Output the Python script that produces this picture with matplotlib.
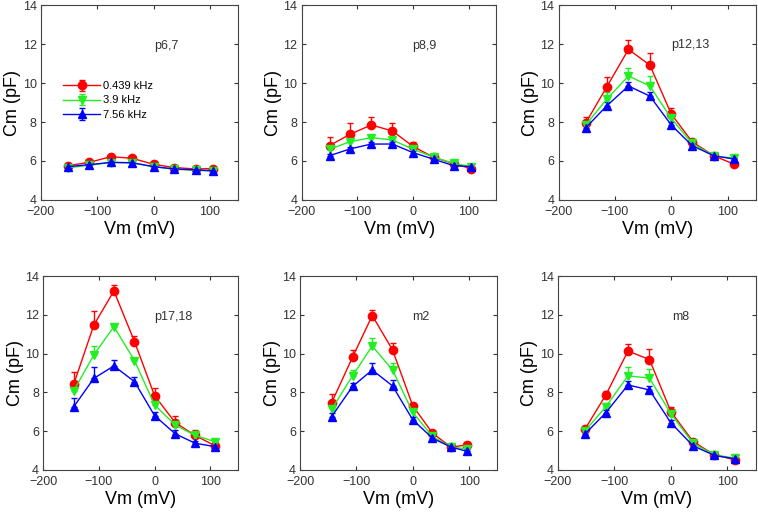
import matplotlib
matplotlib.use("Agg")
import matplotlib.pyplot as plt

plt.rcParams["font.family"] = ["Liberation Sans", "DejaVu Sans"]

# panel labels and membrane potentials (mV)
labels = ["p6,7", "p8,9", "p12,13", "p17,18", "m2", "m8"]
label_xy = [(23, 11.9), (20, 11.9), (34, 11.95), (33, 11.9), (14, 11.9), (18, 11.9)]
vm = [
    [-152, -114, -76, -38, 0, 37, 76, 105],
    [-150, -113, -75, -37, 0, 37, 73, 105],
    [-152, -115, -76, -38, 0, 37, 76, 112],
    [-145, -109, -73, -36, 0, 37, 73, 108],
    [-144, -107, -72, -36, 0, 35, 68, 97],
    [-152, -115, -76, -38, 0, 39, 77, 113],
]

# Cm (pF) at 0.439 kHz
cm_red = [
    [5.76, 5.93, 6.22, 6.14, 5.83, 5.66, 5.59, 5.61],
    [6.79, 7.37, 7.85, 7.54, 6.75, 6.19, 5.86, 5.60],
    [7.95, 9.78, 11.73, 10.92, 8.41, 6.99, 6.26, 5.83],
    [8.43, 11.47, 13.23, 10.62, 7.83, 6.44, 5.77, 5.25],
    [7.47, 9.81, 11.96, 10.19, 7.30, 5.89, 5.17, 5.29],
    [6.10, 7.87, 10.13, 9.69, 7.00, 5.46, 4.77, 4.52],
]
err_red = [
    [0.05, 0.05, 0.05, 0.05, 0.05, 0.03, 0.03, 0.03],
    [0.45, 0.60, 0.42, 0.43, 0.20, 0.10, 0.06, 0.00],
    [0.30, 0.55, 0.50, 0.60, 0.30, 0.10, 0.05, 0.00],
    [0.64, 0.73, 0.31, 0.30, 0.38, 0.36, 0.29, 0.00],
    [0.45, 0.38, 0.29, 0.37, 0.14, 0.09, 0.05, 0.12],
    [0.13, 0.22, 0.36, 0.52, 0.23, 0.05, 0.05, 0.03],
]

# Cm (pF) at 3.9 kHz
cm_green = [
    [5.65, 5.78, 5.92, 5.90, 5.70, 5.58, 5.52, 5.48],
    [6.60, 6.99, 7.20, 7.08, 6.60, 6.20, 5.88, 5.71],
    [7.85, 9.16, 10.36, 9.85, 8.19, 6.90, 6.26, 6.14],
    [8.09, 9.93, 11.39, 9.64, 7.35, 6.32, 5.77, 5.46],
    [7.13, 8.85, 10.39, 9.15, 6.96, 5.72, 5.17, 5.08],
    [6.01, 7.26, 8.85, 8.73, 6.89, 5.37, 4.77, 4.60],
]
err_green = [
    [0.05, 0.05, 0.05, 0.05, 0.05, 0.03, 0.03, 0.03],
    [0.15, 0.15, 0.15, 0.15, 0.10, 0.05, 0.05, 0.03],
    [0.25, 0.40, 0.42, 0.50, 0.25, 0.05, 0.05, 0.05],
    [0.30, 0.46, 0.10, 0.12, 0.17, 0.17, 0.13, 0.05],
    [0.17, 0.30, 0.40, 0.35, 0.17, 0.05, 0.05, 0.05],
    [0.10, 0.18, 0.44, 0.46, 0.20, 0.05, 0.05, 0.05],
]

# Cm (pF) at 7.56 kHz
cm_blue = [
    [5.71, 5.81, 5.93, 5.91, 5.71, 5.59, 5.54, 5.50],
    [6.27, 6.62, 6.87, 6.87, 6.43, 6.09, 5.76, 5.71],
    [7.70, 8.82, 9.85, 9.33, 7.85, 6.79, 6.26, 6.10],
    [7.26, 8.72, 9.36, 8.55, 6.80, 5.86, 5.37, 5.20],
    [6.75, 8.30, 9.15, 8.33, 6.58, 5.63, 5.17, 4.95],
    [5.85, 6.95, 8.38, 8.12, 6.42, 5.24, 4.74, 4.57],
]
err_blue = [
    [0.05, 0.05, 0.05, 0.05, 0.05, 0.03, 0.03, 0.03],
    [0.10, 0.10, 0.10, 0.10, 0.10, 0.05, 0.05, 0.03],
    [0.15, 0.20, 0.20, 0.20, 0.15, 0.05, 0.05, 0.05],
    [0.43, 0.57, 0.31, 0.23, 0.20, 0.20, 0.13, 0.17],
    [0.20, 0.20, 0.35, 0.30, 0.17, 0.10, 0.10, 0.10],
    [0.10, 0.15, 0.20, 0.20, 0.15, 0.05, 0.05, 0.05],
]

freqs = ["0.439 kHz", "3.9 kHz", "7.56 kHz"]
colors = ["#ff0000", "#22ee22", "#0000ff"]
markers = ["o", "v", "^"]

# axes boxes in figure fractions
boxes = [
    (0.054, 0.611, 0.260, 0.379),
    (0.398, 0.611, 0.257, 0.379),
    (0.737, 0.611, 0.260, 0.379),
    (0.057, 0.086, 0.257, 0.377),
    (0.396, 0.086, 0.260, 0.377),
    (0.736, 0.086, 0.261, 0.377),
]

fig = plt.figure(figsize=(7.58, 5.14), dpi=100)

for i, box in enumerate(boxes):
    ax = fig.add_axes(box)
    series = [(cm_red[i], err_red[i]), (cm_green[i], err_green[i]), (cm_blue[i], err_blue[i])]
    for k, (y, e) in enumerate(series):
        ax.errorbar(vm[i], y, yerr=[[0] * len(e), e], color=colors[k], marker=markers[k],
                    markersize=6, linewidth=1, elinewidth=1, capsize=2.5,
                    label=freqs[k])
    ax.set_xlim(-200, 150)
    ax.set_ylim(4, 14)
    ax.set_xticks([-200, -100, 0, 100])
    ax.set_yticks([4, 6, 8, 10, 12, 14])
    ax.tick_params(direction="in", length=3, top=True, right=True, labelsize=9,
                   colors="#333333")
    ax.tick_params(axis="x", pad=4.5)
    ax.tick_params(axis="y", pad=3)
    for s in ax.spines.values():
        s.set_color("#444444")
        s.set_linewidth(0.8)
    ax.set_xlabel("Vm (mV)", fontsize=13, labelpad=2)
    ax.set_ylabel("Cm (pF)", fontsize=13, labelpad=1)
    ax.text(label_xy[i][0], label_xy[i][1], labels[i], fontsize=9, ha="center",
            va="center", color="#333333")
    if i == 0:
        ax.legend(loc="upper left", bbox_to_anchor=(0.08, 0.645), frameon=False,
                  fontsize=8, handlelength=3.3, handletextpad=0.3,
                  labelspacing=0.4, borderpad=0.1)

fig.savefig("out.png", dpi=100)
